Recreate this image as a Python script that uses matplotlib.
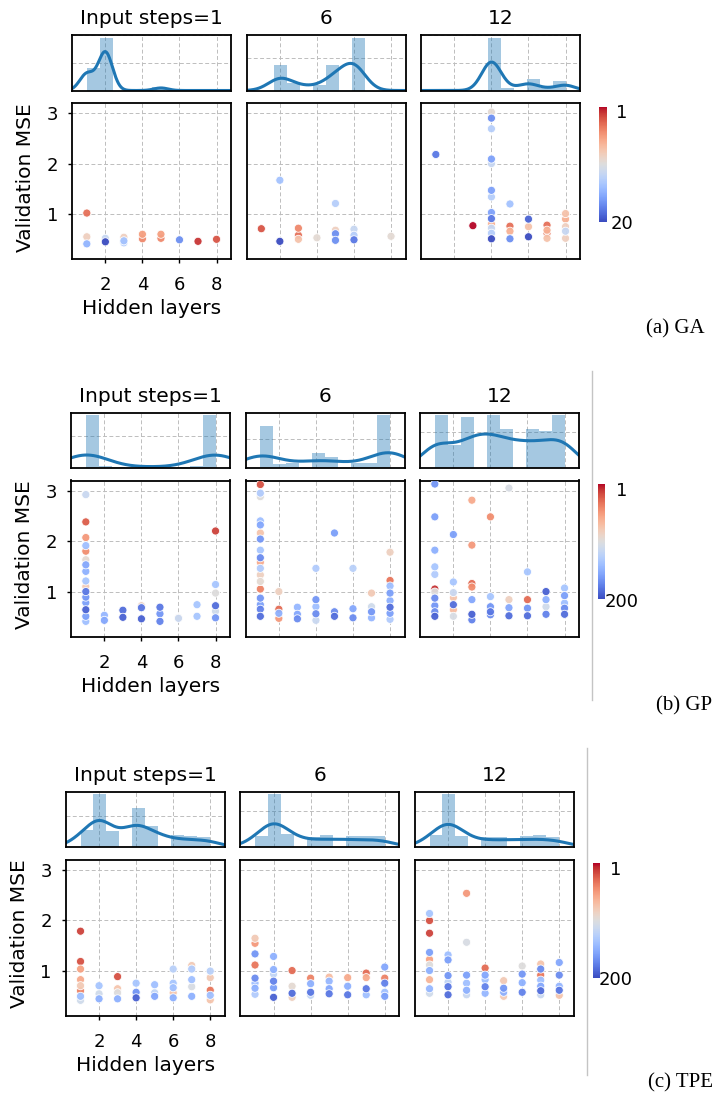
import numpy as np
import matplotlib
matplotlib.use("Agg")
import matplotlib.pyplot as plt
from matplotlib.ticker import MaxNLocator, FixedLocator
from matplotlib.colors import Normalize
from matplotlib.cm import ScalarMappable
from matplotlib.lines import Line2D

# ---------------- data ----------------
input_steps_titles = ["Input steps=1", "6", "12"]
hidden_layer_values = [1, 2, 3, 4, 5, 6, 7, 8]
xticks_vals = [2, 4, 6, 8]
yticks_vals = [1, 2, 3]

# trial counts per hidden-layer value (marginal histograms)
ga_counts_1 = [13, 30, 0, 0, 2, 0, 0, 0]
ga_counts_6 = [0, 22, 6, 5, 22, 45, 0, 0]
ga_counts_12 = [0, 0, 0, 100, 5, 22, 5, 18]
gp_counts_1 = [90, 4, 2, 3, 3, 2, 3, 90]
gp_counts_6 = [55, 5, 7, 20, 14, 6, 7, 70]
gp_counts_12 = [30, 13, 29, 30, 22, 22, 21, 30]
tpe_counts_1 = [19, 59, 18, 44, 23, 13, 12, 11]
tpe_counts_6 = [16, 80, 20, 15, 18, 16, 16, 16]
tpe_counts_12 = [17, 78, 16, 15, 15, 16, 17, 15]

# GA scatter (hidden layers, validation MSE, generation rank)
ga1_layers = [1, 1, 1, 2, 2, 3, 3, 3, 4, 4, 5, 5, 6, 7, 8]
ga1_mse = [1.02, 0.55, 0.41, 0.45, 0.52, 0.47, 0.43, 0.54, 0.60, 0.51, 0.60, 0.52, 0.49, 0.46, 0.50]
ga1_rank = [4, 9, 15, 20, 12, 14, 13, 9, 6, 5, 6, 5, 17, 2, 3]

ga6_layers = [1, 2, 2, 3, 3, 3, 4, 5, 5, 5, 5, 6, 6, 6, 8]
ga6_mse = [0.71, 1.67, 0.46, 0.72, 0.58, 0.50, 0.53, 1.21, 0.68, 0.61, 0.48, 0.70, 0.58, 0.49, 0.56]
ga6_rank = [3, 14, 20, 5, 4, 8, 10, 13, 9, 17, 17, 12, 13, 18, 10]

ga12_layers = [1, 3, 4, 4, 4, 4, 4, 4, 4, 4, 4, 4, 4, 4, 4, 5, 5, 5, 5, 6, 6, 6, 7, 7, 7, 7, 8, 8, 8, 8, 8]
ga12_mse = [2.18, 0.77, 3.02, 2.90, 2.69, 2.09, 2.00, 1.47, 1.34, 1.03, 0.91, 0.80, 0.72, 0.62, 0.51,
            1.20, 0.76, 0.66, 0.51, 0.90, 0.75, 0.55, 0.78, 0.68, 0.62, 0.52, 1.01, 0.90, 0.75, 0.66, 0.52]
ga12_rank = [18, 1, 10, 17, 13, 16, 12, 16, 13, 16, 18, 7, 12, 13, 20,
             14, 4, 7, 17, 19, 8, 20, 4, 7, 4, 8, 8, 7, 9, 12, 9]

# GP scatter
gp1_layers = [1, 1, 1, 1, 1, 1, 1, 1, 1, 1, 1, 1, 1, 1, 1, 1, 2, 2, 3, 3, 4, 4, 4, 5, 5, 5, 6, 6, 7, 7,
              8, 8, 8, 8, 8, 8]
gp1_mse = [2.92, 2.38, 2.07, 1.91, 1.80, 1.63, 1.53, 1.40, 1.21, 1.10, 1.00, 0.89, 0.78, 0.64, 0.51, 0.41,
           0.53, 0.43, 0.63, 0.49, 0.72, 0.68, 0.46, 0.69, 0.56, 0.41, 0.48, 0.47, 0.74, 0.51,
           2.20, 1.14, 0.97, 0.72, 0.61, 0.48]
gp1_rank = [115, 25, 50, 140, 45, 95, 155, 150, 135, 80, 180, 165, 160, 190, 160, 140,
            145, 155, 185, 190, 85, 180, 190, 180, 165, 175, 90, 115, 135, 135,
            15, 135, 100, 185, 110, 165]

gp6_layers = [1, 1, 1, 1, 1, 1, 1, 1, 1, 1, 1, 1, 1, 1, 1, 1, 1, 1, 2, 2, 2, 2, 3, 3, 3, 4, 4, 4, 4, 4,
              5, 5, 5, 6, 6, 6, 7, 7, 7, 7, 8, 8, 8, 8, 8, 8, 8, 8]
gp6_mse = [3.12, 2.95, 2.88, 2.40, 2.32, 2.16, 2.04, 1.82, 1.67, 1.58, 1.46, 1.33, 1.20, 1.05, 0.87, 0.74,
           0.65, 0.51, 1.00, 0.65, 0.57, 0.47, 0.69, 0.55, 0.46, 1.46, 0.84, 0.70, 0.56, 0.43,
           2.16, 0.60, 0.51, 1.46, 0.66, 0.48, 0.97, 0.70, 0.60, 0.48, 1.78, 1.22, 1.11, 0.97, 0.82, 0.69,
           0.57, 0.45]
gp6_rank = [20, 130, 100, 140, 155, 75, 165, 135, 170, 60, 130, 85, 95, 40, 165, 160,
            175, 185, 85, 30, 150, 50, 145, 155, 170, 130, 165, 140, 170, 115,
            160, 170, 185, 125, 155, 170, 80, 110, 165, 145, 85, 35, 140, 160, 150, 185,
            160, 130]

gp12_layers = [1, 1, 1, 1, 1, 1, 1, 1, 1, 1, 1, 2, 2, 2, 2, 2, 2, 2, 3, 3, 3, 3, 3, 3, 3,
               4, 4, 4, 4, 4, 5, 5, 5, 5, 6, 6, 6, 6, 7, 7, 7, 7, 8, 8, 8, 8, 8]
gp12_mse = [3.13, 2.48, 1.82, 1.49, 1.34, 1.05, 0.99, 0.87, 0.72, 0.60, 0.51,
            2.13, 1.19, 0.98, 0.88, 0.74, 0.64, 0.51, 2.81, 1.92, 1.16, 1.09, 0.84, 0.55, 0.44,
            2.48, 0.90, 0.70, 0.60, 0.54, 3.05, 0.84, 0.68, 0.52, 1.39, 0.84, 0.67, 0.52,
            1.00, 0.84, 0.70, 0.55, 1.07, 0.92, 0.77, 0.67, 0.55]
gp12_rank = [165, 160, 150, 135, 130, 10, 100, 170, 165, 170, 190,
             160, 135, 115, 75, 185, 70, 105, 60, 50, 30, 45, 155, 190, 175,
             45, 135, 165, 180, 170, 105, 85, 155, 185, 135, 30, 165, 185,
             190, 150, 110, 175, 135, 160, 140, 170, 185]

# TPE scatter
tpe1_layers = [1, 1, 1, 1, 1, 1, 1, 1, 2, 2, 2, 3, 3, 3, 3, 4, 4, 4, 4, 5, 5, 5,
               6, 6, 6, 6, 6, 7, 7, 7, 7, 7, 8, 8, 8, 8, 8]
tpe1_mse = [1.78, 1.18, 1.03, 0.82, 0.70, 0.60, 0.49, 0.41, 0.70, 0.54, 0.44, 0.88, 0.64, 0.56, 0.44,
            0.75, 0.57, 0.54, 0.46, 0.72, 0.56, 0.49, 1.03, 0.75, 0.66, 0.56, 0.46,
            1.10, 1.03, 0.82, 0.68, 0.49, 0.99, 0.86, 0.61, 0.51, 0.42]
tpe1_rank = [15, 20, 55, 60, 80, 40, 140, 110, 135, 110, 150, 20, 75, 100, 150,
             135, 165, 110, 190, 140, 120, 155, 125, 135, 140, 75, 150,
             80, 130, 140, 105, 150, 125, 80, 35, 140, 75]

tpe6_layers = [1, 1, 1, 1, 1, 1, 1, 1, 2, 2, 2, 2, 2, 2, 3, 3, 3, 3, 4, 4, 4, 4, 5, 5, 5, 5,
               6, 6, 6, 7, 7, 7, 7, 8, 8, 8, 8, 8]
tpe6_mse = [1.64, 1.54, 1.33, 1.11, 0.85, 0.75, 0.65, 0.53, 1.28, 1.02, 0.93, 0.79, 0.66, 0.47,
            1.00, 0.69, 0.55, 0.47, 0.85, 0.74, 0.57, 0.51, 0.87, 0.79, 0.64, 0.54,
            0.86, 0.69, 0.52, 0.95, 0.86, 0.64, 0.52, 1.07, 0.85, 0.75, 0.57, 0.49]
tpe6_rank = [80, 50, 165, 35, 170, 140, 150, 130, 150, 150, 120, 175, 160, 190,
             30, 95, 185, 85, 40, 150, 180, 120, 70, 145, 155, 180,
             60, 150, 180, 30, 60, 180, 140, 155, 40, 175, 140, 160]

tpe12_layers = [1, 1, 1, 1, 1, 1, 1, 1, 1, 1, 2, 2, 2, 2, 2, 2, 3, 3, 3, 3, 3, 3,
                4, 4, 4, 4, 4, 5, 5, 5, 5, 6, 6, 6, 6, 7, 7, 7, 7, 7, 7, 7, 8, 8, 8, 8, 8]
tpe12_mse = [2.13, 1.99, 1.74, 1.36, 1.22, 1.11, 1.00, 0.82, 0.64, 0.55,
             1.31, 1.21, 0.90, 0.77, 0.68, 0.52, 2.53, 1.56, 0.91, 0.75, 0.61, 0.52,
             1.05, 0.91, 0.82, 0.68, 0.55, 0.80, 0.65, 0.57, 0.49, 1.09, 0.93, 0.76, 0.57,
             1.13, 1.03, 0.91, 0.81, 0.69, 0.60, 0.52, 1.16, 0.91, 0.69, 0.61, 0.51]
tpe12_rank = [135, 20, 15, 160, 55, 100, 150, 65, 145, 110,
              140, 160, 165, 120, 180, 185, 50, 105, 160, 140, 150, 115,
              30, 155, 140, 175, 145, 80, 165, 150, 80, 100, 165, 150, 175,
              75, 170, 35, 140, 155, 185, 115, 155, 170, 145, 180, 75]

# ---------------- figure ----------------
plt.rcParams['font.family'] = ['DejaVu Sans']
W, H = 720, 1100
fig = plt.figure(figsize=(W / 100, H / 100), dpi=100)


def fx(x):
    return x / W


def fy(y):
    return 1 - y / H


def rect(x0, y0, w, h):
    return [x0 / W, 1 - (y0 + h) / H, w / W, h / H]


def kde(samples, grid):
    s = np.asarray(samples, float)
    n = s.size
    bw = s.std(ddof=1) * n ** (-0.2)
    z = (grid[:, None] - s[None, :]) / bw
    return np.exp(-0.5 * z ** 2).sum(1) / (n * bw * np.sqrt(2 * np.pi))


XLIM = (0.2, 8.78)
YLIM = (0.1, 3.2)
C0 = '#1f77b4'
COL_OFF = [0, 174.5, 349]
AX_W = 159
HIST_H = 55.5
SC_GAP = 68
SC_H = 156.5


def style(ax):
    for sp in ax.spines.values():
        sp.set_linewidth(1.3)
        sp.set_color('black')
    ax.set_axisbelow(True)
    ax.grid(True, ls=(0, (4, 2.5)), color='#bdbdbd', lw=0.7)


sections = [
    dict(label='(a) GA', vmax=20, left=72, top=35,
         counts=[ga_counts_1, ga_counts_6, ga_counts_12],
         pts=[(ga1_layers, ga1_mse, ga1_rank), (ga6_layers, ga6_mse, ga6_rank),
              (ga12_layers, ga12_mse, ga12_rank)],
         cbar=(599.3, 106.7, 7.3, 115), cbtx=622, lab=(705, 333), sep=None),
    dict(label='(b) GP', vmax=200, left=71, top=412.5,
         counts=[gp_counts_1, gp_counts_6, gp_counts_12],
         pts=[(gp1_layers, gp1_mse, gp1_rank), (gp6_layers, gp6_mse, gp6_rank),
              (gp12_layers, gp12_mse, gp12_rank)],
         cbar=(597.7, 484, 7.3, 115.3), cbtx=622, lab=(712, 710), sep=(592.3, 371, 700)),
    dict(label='(c) TPE', vmax=200, left=65.7, top=791.5,
         counts=[tpe_counts_1, tpe_counts_6, tpe_counts_12],
         pts=[(tpe1_layers, tpe1_mse, tpe1_rank), (tpe6_layers, tpe6_mse, tpe6_rank),
              (tpe12_layers, tpe12_mse, tpe12_rank)],
         cbar=(592.7, 863.3, 7.3, 114.4), cbtx=616, lab=(713, 1087), sep=(587.3, 748, 1075)),
]

for sec in sections:
    norm = Normalize(vmin=1, vmax=sec['vmax'])
    top = sec['top']
    for j in range(3):
        xl = sec['left'] + COL_OFF[j]
        hax = fig.add_axes(rect(xl, top, AX_W, HIST_H))
        sax = fig.add_axes(rect(xl, top + SC_GAP, AX_W, SC_H))

        samples = np.repeat(hidden_layer_values, sec['counts'][j])
        hax.hist(samples, bins=10, range=(1, 8), density=True, color=C0, alpha=0.4, lw=0)
        g = np.linspace(XLIM[0], XLIM[1], 400)
        hax.plot(g, kde(samples, g), color=C0, lw=2.2)
        hax.set_xlim(XLIM)
        hax.xaxis.set_major_locator(FixedLocator(xticks_vals))
        hax.yaxis.set_major_locator(MaxNLocator(nbins=2))
        hax.tick_params(length=0, labelbottom=False, labelleft=False)
        style(hax)

        fig.text(fx(xl + AX_W / 2), fy(top - 10.5), input_steps_titles[j],
                 ha='center', va='baseline', fontsize=14.5)

        lx, my, rk = (np.asarray(a, float) for a in sec['pts'][j])
        order = np.argsort(rk, kind='stable')
        sax.scatter(lx[order], my[order], c=rk[order], cmap='coolwarm_r', norm=norm,
                    s=34, edgecolors='white', linewidths=0.6, alpha=0.95, zorder=3)
        sax.set_xlim(XLIM)
        sax.set_ylim(YLIM)
        sax.set_xticks(xticks_vals)
        sax.set_yticks(yticks_vals)
        style(sax)
        if j == 0:
            sax.tick_params(axis='both', labelsize=13, length=3, width=1)
            sax.tick_params(axis='x', pad=9)
            sax.tick_params(axis='y', pad=7)
            sb = top + SC_GAP + SC_H
            fig.text(fx(xl + AX_W / 2), fy(sb + 55), 'Hidden layers',
                     ha='center', va='baseline', fontsize=14.5)
            fig.text(fx(xl - 46), fy(top + SC_GAP + SC_H / 2 - 4), 'Validation MSE',
                     rotation=90, ha='center', va='center', fontsize=14.5)
        else:
            sax.tick_params(length=0, labelbottom=False, labelleft=False)

    cx, cy, cw, ch = sec['cbar']
    cax = fig.add_axes(rect(cx, cy, cw, ch))
    cb = fig.colorbar(ScalarMappable(norm=norm, cmap='coolwarm_r'), cax=cax)
    cax.invert_yaxis()
    cb.set_ticks([])
    cb.outline.set_visible(False)
    fig.text(fx(sec['cbtx']), fy(cy + 11.5), '1', ha='center', va='baseline', fontsize=13)
    fig.text(fx(sec['cbtx']), fy(cy + ch + 7.5), str(sec['vmax']), ha='center',
             va='baseline', fontsize=13)

    fig.text(fx(sec['lab'][0]), fy(sec['lab'][1]), sec['label'], ha='right', va='baseline',
             fontsize=15, family='Liberation Serif')
    if sec['sep'] is not None:
        sx, sy0, sy1 = sec['sep']
        fig.add_artist(Line2D([fx(sx), fx(sx)], [fy(sy0), fy(sy1)], color='#c4c4c4', lw=1))

fig.savefig('out.png', dpi=100)
